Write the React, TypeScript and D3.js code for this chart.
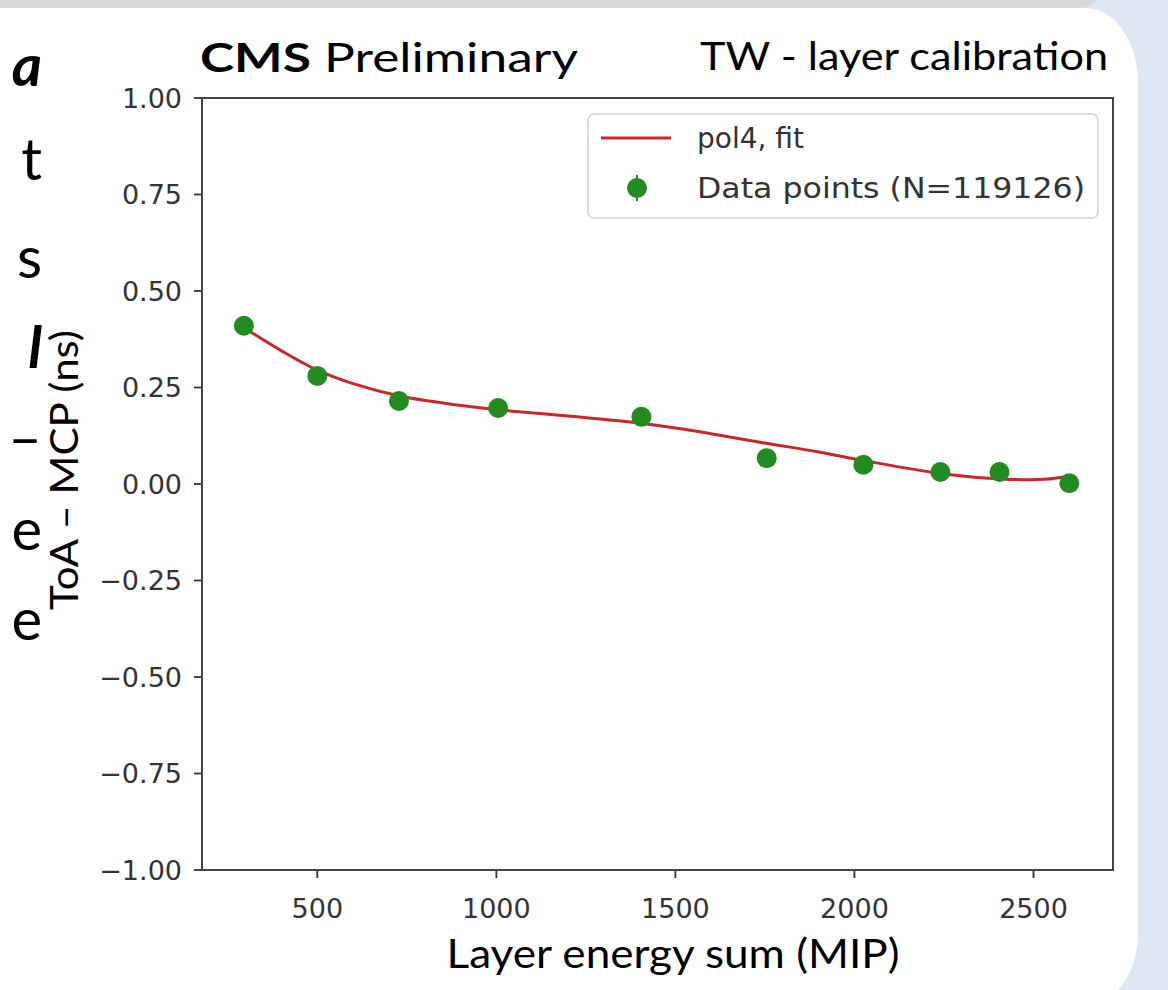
import React from "react";
import * as d3 from "d3";

// data points (layer energy sum in MIP, ToA - MCP in ns)
const energy = [295, 500, 728, 1005, 1405, 1755, 2025, 2240, 2405, 2600];
const offset = [0.41, 0.28, 0.215, 0.197, 0.174, 0.067, 0.05, 0.031, 0.031, 0.002];

// pol4 fit curve
const fitX = [295, 400, 500, 600, 730, 850, 1000, 1200, 1400, 1550, 1750, 1900, 2030, 2250, 2410, 2530, 2610];
const fitY = [0.405, 0.345, 0.295, 0.26, 0.228, 0.21, 0.193, 0.176, 0.158, 0.138, 0.106, 0.083, 0.06, 0.026, 0.013, 0.012, 0.022];

const xTicks = [500, 1000, 1500, 2000, 2500];
const yTicks = [-1, -0.75, -0.5, -0.25, 0, 0.25, 0.5, 0.75, 1];

// clipped slide text on the left
const sideLetters = ["a", "t", "s", "l", "–", "e", "e"];
const sideBaseline = [86, 180, 278, 368, 458, 550, 640];
const sideBold = [true, false, false, true, false, false, false];

export default function App() {
  const W = 1168, H = 990;
  const left = 202, right = 1113, top = 98, bottom = 870;

  const x = d3.scaleLinear().domain([178, 2722]).range([left, right]);
  const y = d3.scaleLinear().domain([-1, 1]).range([bottom, top]);

  const fitLine = d3
    .line<number>()
    .x((_, i) => x(fitX[i]))
    .y((d) => y(d))
    .curve(d3.curveCatmullRom.alpha(0.5));

  const tickFont = "DejaVu Sans";
  const slideFont = "Lato, 'Open Sans', sans-serif";

  return (
    <svg width={W} height={H} style={{ position: "absolute", left: 0, top: 0 }}>
      <defs>
        <clipPath id="sideClip">
          <rect x={0} y={0} width={45} height={H} />
        </clipPath>
      </defs>
      {/* slide background */}
      <rect width={W} height={H} fill="#dde7f3" />
      <path d="M0,0 H1096 Q1092,8 1076,8 H0 Z" fill="#d9d9d9" />
      <path d="M0,8 H1086 A52,75 0 0 1 1138,83 V930 Q1138,968 1118,990 H0 Z" fill="#ffffff" />

      {/* cut-off slide text */}
      <g clipPath="url(#sideClip)">
        {sideLetters.map((c, i) => (
          <text
            key={i}
            x={42}
            y={sideBaseline[i]}
            textAnchor="end"
            fontFamily={slideFont}
            fontSize={58}
            fontWeight={sideBold[i] ? 700 : 400}
            fontStyle={sideBold[i] ? "italic" : "normal"}
            fill="#000"
          >
            {c}
          </text>
        ))}
      </g>

      {/* titles */}
      <text x={200} y={72} fontFamily={slideFont} fontSize={40} fill="#000" textLength={378} lengthAdjust="spacingAndGlyphs">
        <tspan fontWeight={700}>CMS</tspan> Preliminary
      </text>
      <text x={1108} y={70} textAnchor="end" fontFamily={slideFont} fontSize={38} fill="#000" textLength={408} lengthAdjust="spacingAndGlyphs">
        TW - layer calibration
      </text>

      {/* ticks and labels */}
      {yTicks.map((t) => (
        <g key={t} transform={`translate(${left},${y(t)})`}>
          <line x1={-8} x2={0} stroke="#333" strokeWidth={1.8} />
          <text x={-20} dy="0.36em" textAnchor="end" fontFamily={tickFont} fontSize={27} fill="#333">
            {d3.format(".2f")(t).replace("-", "\u2212")}
          </text>
        </g>
      ))}
      {xTicks.map((t) => (
        <g key={t} transform={`translate(${x(t)},${bottom})`}>
          <line y1={0} y2={8} stroke="#333" strokeWidth={1.8} />
          <text y={48} textAnchor="middle" fontFamily={tickFont} fontSize={27} fill="#333">
            {t}
          </text>
        </g>
      ))}

      {/* fit curve */}
      <path d={fitLine(fitY) || ""} fill="none" stroke="#c8282c" strokeWidth={3} />

      {/* data points */}
      {energy.map((e, i) => (
        <circle key={i} cx={x(e)} cy={y(offset[i])} r={10} fill="#228b22" />
      ))}

      {/* frame */}
      <rect x={left} y={top} width={right - left} height={bottom - top} fill="none" stroke="#444" strokeWidth={2} />

      {/* legend */}
      <g>
        <rect x={588} y={114} width={510} height={104} rx={6} fill="#fff" fillOpacity={0.8} stroke="#d0d0d0" strokeWidth={1.5} />
        <line x1={601} x2={671} y1={138} y2={138} stroke="#c8282c" strokeWidth={3} />
        <text x={697} y={138} dy="0.36em" fontFamily={tickFont} fontSize={28} fill="#333">
          pol4, fit
        </text>
        <line x1={637} x2={637} y1={175} y2={201} stroke="#228b22" strokeWidth={2} />
        <circle cx={637} cy={188} r={10} fill="#228b22" />
        <text x={697} y={188} dy="0.36em" fontFamily={tickFont} fontSize={28} fill="#333" textLength={388} lengthAdjust="spacingAndGlyphs">
          Data points (N=119126)
        </text>
      </g>

      {/* axis labels */}
      <text x={673} y={968} textAnchor="middle" fontFamily={slideFont} fontSize={40} fill="#000" textLength={453} lengthAdjust="spacingAndGlyphs">
        Layer energy sum (MIP)
      </text>
      <text
        transform="translate(78,470) rotate(-90)"
        textAnchor="middle"
        fontFamily={slideFont}
        fontSize={38}
        fill="#000"
        textLength={280}
        lengthAdjust="spacingAndGlyphs"
      >
        ToA – MCP (ns)
      </text>
    </svg>
  );
}
